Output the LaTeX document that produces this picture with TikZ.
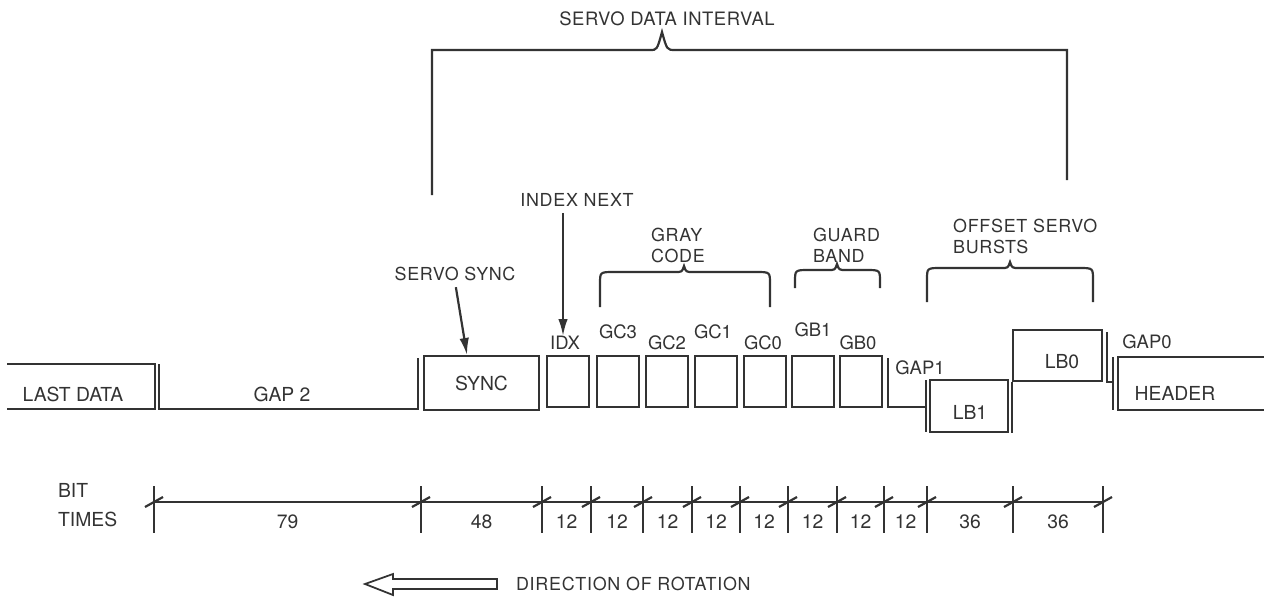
\documentclass[tikz,border=0pt]{standalone}
\usepackage{fontspec}
\setmainfont{TeX Gyre Heros}
\newfontfamily\notefont[LetterSpace=4]{TeX Gyre Heros}
\newfontfamily\titlefont[LetterSpace=3]{TeX Gyre Heros}
\usetikzlibrary{arrows.meta}

% curly brace over a group of fields: x left, x peak, x right, y top, y foot
\newcommand{\fieldbrace}[5]{%
  \draw (#1,#5) -- (#1,#4+12) .. controls (#1,#4) .. (#1+14,#4)
    -- (#2-9,#4) .. controls (#2-2,#4) .. (#2,#4-6)
    .. controls (#2+2,#4) .. (#2+9,#4) -- (#3-14,#4)
    .. controls (#3,#4) .. (#3,#4+12) -- (#3,#5);}

\begin{document}
\begin{tikzpicture}[x=0.02cm, y=-0.02cm, black!80, line width=1.25pt,
  >={Latex[length=3.4mm,width=1.9mm]},
  field/.style={draw, minimum width=0.84cm, minimum height=1.02cm, inner sep=0pt},
  tag/.style={inner sep=0pt, font=\fontsize{10.5}{12}\selectfont},
  word/.style={inner sep=0pt, font=\fontsize{11}{13}\selectfont},
  note/.style={inner sep=0pt, align=left, font=\notefont\fontsize{10.2}{11.8}\selectfont},
  num/.style={inner sep=0pt, font=\fontsize{11}{13}\selectfont}]
  \useasboundingbox (0,0) rectangle (1264,608);

  % servo data interval
  \node[inner sep=0pt, font=\titlefont\fontsize{10.5}{12}\selectfont] (sdi) at (667,19) {SERVO DATA INTERVAL};
  \draw (432,195) -- (432,50) -- (650,50) .. controls (657,50) .. (662,32)
    .. controls (667,50) .. (675,50) -- (1067,50) -- (1067,180);

  % track fields
  \draw (7,364) -- (155,364) -- (155,409) -- (7,409);
  \node[word] (last) at (73,394) {LAST DATA};
  \draw (159,364) -- (159,409) -- (418,409) -- (418,358);
  \node[word] (gap2) at (282,394) {GAP 2};
  \node[field, word, minimum width=2.3cm, minimum height=1.08cm] (sync) at (481.5,383) {SYNC};
  \foreach \n/\t/\x/\lx/\ly in {idx/IDX/568/565/343, gc3/GC3/618/618/332,
      gc2/GC2/667/667/343, gc1/GC1/716/713/332, gc0/GC0/765/763/343,
      gb1/GB1/813/813/330, gb0/GB0/861/858/343}{
    \node[field] (\n) at (\x,381.5) {};
    \node[tag] (\n-l) at (\lx,\ly) {\t};
  }
  \draw (888,358) -- (888,407) -- (926,407);
  \node[tag] (gap1) at (920,368) {GAP1};
  \draw (926,380) -- (926,432);
  \node[field, minimum width=1.56cm, minimum height=1.04cm] (lb1) at (969,406) {};
  \node[word] (lb1-l) at (970,412) {LB1};
  \node[field, minimum width=1.78cm, minimum height=1.02cm] (lb0) at (1057.5,355.5) {};
  \node[word] (lb0-l) at (1062,362) {LB0};
  \draw (lb0.south west) -- ++(0,51);
  \draw (1107,332) -- (1107,382) -- (1113,382) (1113,357) -- (1113,410);
  \node[tag] (gap0) at (1147,342) {GAP0};
  \draw (1264,357) -- (1118,357) -- (1118,410) -- (1264,410);
  \node[word] (header) at (1175,393) {HEADER};

  % callouts
  \node[note] (ssync) at (455,274) {SERVO SYNC};
  \coordinate (synctop) at (467,355);
  \draw[->, shorten <=3pt] (ssync.south) -- (synctop);
  \node[note] (inext) at (577,200) {INDEX NEXT};
  \coordinate (idxtip) at (563,336);
  \draw[->, shorten <=3pt] (idxtip |- inext.south) -- (idxtip);
  \node[note, anchor=north west] (gray) at (650,227) {GRAY\\CODE};
  \fieldbrace{600}{684}{770}{272}{307}
  \node[note, anchor=north west] (guard) at (812,227) {GUARD\\BAND};
  \fieldbrace{795}{837}{880}{270}{288}
  \node[note, anchor=north west] (offset) at (952,218) {OFFSET SERVO\\BURSTS};
  \fieldbrace{927}{1010}{1093}{268}{302}

  % bit times
  \node[tag, align=left, anchor=west, font=\fontsize{11}{16.4}\selectfont] (bits) at (57,505) {BIT\\TIMES};
  \draw (154,502) -- (1103,502);
  \foreach \x in {154,421,542,591,643,692,740,788,837,884,927,1013,1103}{
    \draw (\x,486) -- (\x,533);
    \draw (\x-9,507) -- (\x+9,497);
  }
  \foreach \a/\b/\n in {154/421/79, 421/542/48, 542/591/12, 591/643/12, 643/692/12,
      692/740/12, 740/788/12, 788/837/12, 837/884/12, 884/927/12, 927/1013/36, 1013/1103/36}
    \node[num] (n\a) at (\a/2+\b/2,522) {\n};

  % direction of rotation
  \draw[line width=1pt] (365,584) -- (393,574) -- (393,579) -- (497,579) -- (497,589)
    -- (393,589) -- (393,595) -- cycle;
  \node[note, anchor=west] (dir) at (515,584) {DIRECTION OF ROTATION};
\end{tikzpicture}
\end{document}
